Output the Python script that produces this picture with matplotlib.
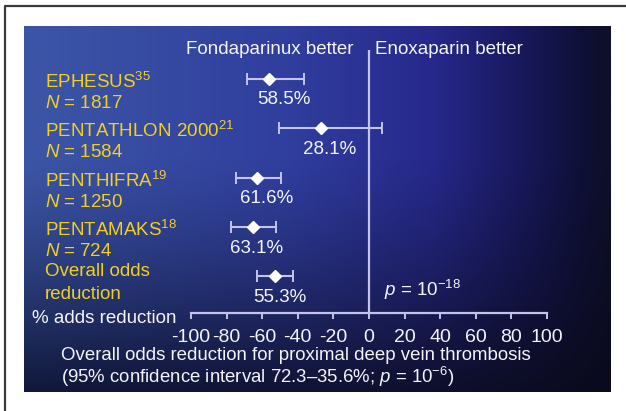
"""Forest plot: fondaparinux vs enoxaparin, odds reduction per study."""

import numpy as np
import matplotlib.pyplot as plt
from matplotlib.lines import Line2D
from matplotlib.transforms import blended_transform_factory


# --- data ---
studies = ['EPHESUS', 'PENTATHLON 2000', 'PENTHIFRA', 'PENTAMAKS', 'Overall odds']
refs = ['35', '21', '19', '18', '']
n_patients = ['1817', '1584', '1250', '724', '']
odds_reduction = [58.5, 28.1, 61.6, 63.1, 55.3]
estimate = [-56.4, -26.9, -62.7, -65.4, -53.0]
ci_low = [-68.8, -50.3, -74.6, -77.6, -63.1]
ci_high = [-36.3, 7.3, -49.4, -52.5, -42.8]
xticks = [-100, -80, -60, -40, -20, 0, 20, 40, 60, 80, 100]

# --- layout (pixels of the 626x411 output) ---
W, H = 626, 411
PANEL = (24, 27, 611, 392)          # left, top, right, bottom
AX_X = (191, 547)                   # where -100 and 100 sit
AX_Y = (50, 313)                    # top of zero line, axis line
ROW0, ROW_STEP = 78.7, 49.4
pct_label_x = [283.5, 330, 266.7, 256.6, 279.8]

YELLOW = '#f2d01e'
WHITE = '#f4f4fa'
LAVENDER = '#c4c4ea'
FS = 13.5

plt.rcParams['font.family'] = ['Liberation Sans', 'DejaVu Sans']
plt.rcParams['mathtext.fontset'] = 'custom'
plt.rcParams['mathtext.rm'] = 'Liberation Sans'
plt.rcParams['mathtext.it'] = 'Liberation Sans:italic'


def fx(x):
    return x / W


def fy(y):
    return 1 - y / H


def make_gradient(nx=300, ny=200):
    """ Blue to navy from left to right, darker towards the bottom. """
    tx = np.linspace(0, 1, nx)
    ty = np.linspace(0, 1, ny)

    top_stops = [0, 0.45, 0.7, 0.85, 0.95, 1.0]
    top_cols = np.array([
        (60, 86, 166), (48, 62, 158), (38, 40, 138),
        (24, 24, 92), (15, 16, 56), (14, 15, 40),
    ]) / 255.
    bot_stops = [0, 0.5, 1.0]
    bot_cols = np.array([(16, 24, 58), (16, 18, 52), (10, 10, 28)]) / 255.

    top = np.stack([np.interp(tx, top_stops, top_cols[:, c]) for c in range(3)], -1)
    bot = np.stack([np.interp(tx, bot_stops, bot_cols[:, c]) for c in range(3)], -1)
    w = np.clip((ty - 0.35) / 0.65, 0, 1) ** 1.3
    img = top[None, :, :] * (1 - w[:, None, None]) + bot[None, :, :] * w[:, None, None]
    return img


def main():
    fig = plt.figure(figsize=(W / 100, H / 100), dpi=100)

    # background, panel and page frame
    bg = fig.add_axes([0, 0, 1, 1])
    l, t, r, b = PANEL
    bg.imshow(make_gradient(), extent=(l, r, b, t), aspect='auto',
              interpolation='bilinear')
    bg.add_line(Line2D([5, 5, W], [H, 6.5, 6.5], color='#3a3a3a', lw=1.6))
    bg.set_xlim(0, W)
    bg.set_ylim(H, 0)
    bg.axis('off')

    # forest plot axes
    ax = fig.add_axes([
        fx(AX_X[0]), fy(AX_Y[1]),
        (AX_X[1] - AX_X[0]) / W, (AX_Y[1] - AX_Y[0]) / H
    ])
    ax.patch.set_visible(False)
    rows = np.arange(len(studies))
    ax.set_xlim(-100, 100)
    ax.set_ylim((AX_Y[1] - ROW0) / ROW_STEP, (AX_Y[0] - ROW0) / ROW_STEP)

    for side in ['top', 'left', 'right']:
        ax.spines[side].set_visible(False)
    ax.spines['bottom'].set_color(LAVENDER)
    ax.spines['bottom'].set_linewidth(1.6)
    ax.set_yticks([])
    ax.set_xticks(xticks)
    ax.set_xticklabels([str(v) for v in xticks])
    ax.tick_params(axis='x', colors=LAVENDER, labelcolor=WHITE, length=4.5,
                   width=1.4, pad=7, labelsize=14)

    ax.axvline(0, color=LAVENDER, lw=1.6)

    est = np.array(estimate)
    xerr = np.vstack([est - np.array(ci_low), np.array(ci_high) - est])
    ax.errorbar(est, rows, xerr=xerr, fmt='D', color=LAVENDER, ecolor=LAVENDER,
                elinewidth=1.5, capsize=4.5, capthick=1.4,
                markerfacecolor='white', markeredgecolor='white', markersize=6.5)

    trans = blended_transform_factory(fig.transFigure, ax.transData)

    # percentage under each estimate
    for i, pct in enumerate(odds_reduction):
        fig.text(fx(pct_label_x[i]), rows[i] + 0.43, f'{pct}%', color=WHITE,
                 fontsize=FS, ha='center', va='center', transform=trans)

    # study names in yellow
    for i, name in enumerate(studies):
        if refs[i]:
            fig.text(fx(44.6), rows[i] + 0.06, name + f'$^{{{refs[i]}}}$',
                     color=YELLOW, fontsize=FS, ha='left', va='center',
                     transform=trans)
            fig.text(fx(44.6), rows[i] + 0.5, f'$N$ = {n_patients[i]}',
                     color=YELLOW, fontsize=FS, ha='left', va='center',
                     transform=trans)
        else:
            fig.text(fx(44.6), rows[i] - 0.09, name, color=YELLOW, fontsize=FS,
                     ha='left', va='center', transform=trans)
            fig.text(fx(44.6), rows[i] + 0.37, 'reduction', color=YELLOW,
                     fontsize=FS, ha='left', va='center', transform=trans)

    # headings and notes
    fig.text(fx(354), fy(49.7), 'Fondaparinux better', color=WHITE,
             fontsize=FS, ha='right', va='center')
    fig.text(fx(375), fy(49.7), 'Enoxaparin better', color=WHITE,
             fontsize=FS, ha='left', va='center')
    fig.text(fx(32), fy(318), '% adds reduction', color=WHITE,
             fontsize=FS, ha='left', va='center')
    fig.text(fx(384), fy(290), '$p$ = 10$^{\u221218}$', color=WHITE,
             fontsize=FS, ha='left', va='center')
    fig.text(fx(60.7), fy(355.3),
             'Overall odds reduction for proximal deep vein thrombosis',
             color=WHITE, fontsize=13.4, ha='left', va='center')
    fig.text(fx(60.7), fy(377),
             '(95% confidence interval 72.3\u201335.6%; $p$ = 10$^{\u22126}$)',
             color=WHITE, fontsize=13.4, ha='left', va='center')

    fig.savefig('out.png', dpi=100, facecolor='white')


if __name__ == '__main__':
    main()
